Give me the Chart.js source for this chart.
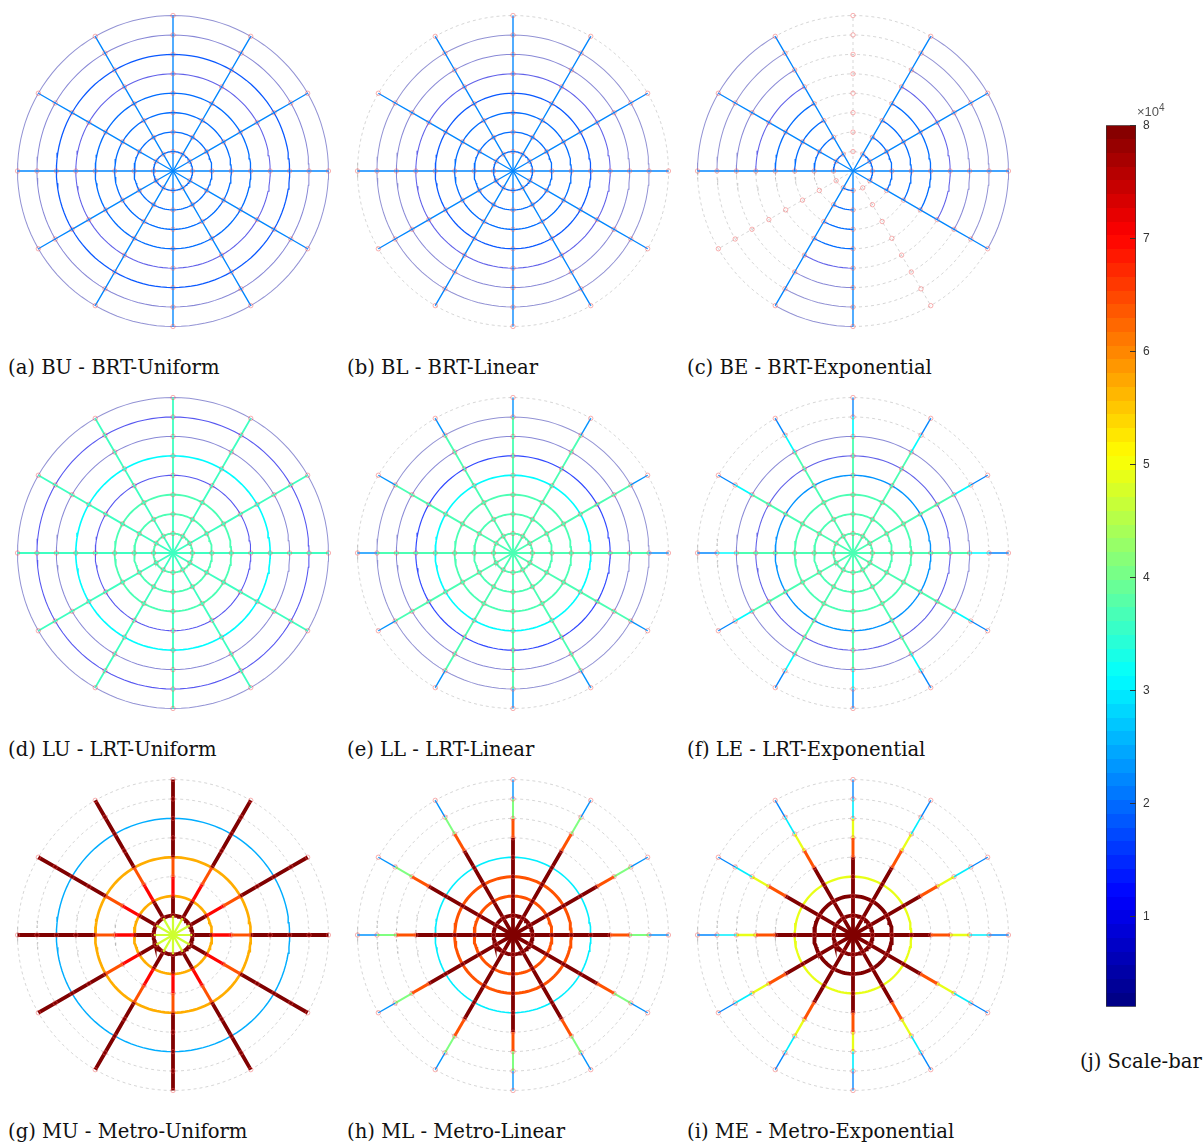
<!DOCTYPE html>
<html lang="en">
<head>
<meta charset="UTF-8">
<title>Network flows - scale bar</title>
<script src="https://cdn.jsdelivr.net/npm/chart.js"></script>
<style>
    body { margin: 0; background: #fff; width: 1204px; height: 1146px; position: relative; overflow: hidden; }
    .painel { position: absolute; }
    .legenda { position: absolute; font-family: "DejaVu Serif", serif; font-size: 19.6px; line-height: 20px; color: #111; white-space: nowrap; }
    #expoente { position: absolute; left: 1137px; top: 102px; font-family: "Liberation Sans", sans-serif; font-size: 13px; color: #555; }
    #expoente sup { font-size: 10px; }
</style>
</head>
<body>
<canvas class="painel" id="pa" width="340" height="340"></canvas>
<canvas class="painel" id="pb" width="340" height="340"></canvas>
<canvas class="painel" id="pc" width="340" height="340"></canvas>
<canvas class="painel" id="pd" width="340" height="340"></canvas>
<canvas class="painel" id="pe" width="340" height="340"></canvas>
<canvas class="painel" id="pf" width="340" height="340"></canvas>
<canvas class="painel" id="pg" width="340" height="340"></canvas>
<canvas class="painel" id="ph" width="340" height="340"></canvas>
<canvas class="painel" id="pi" width="340" height="340"></canvas>
<canvas class="painel" id="escala" width="108" height="910" style="left:1096px; top:111px;"></canvas>
<div id="expoente">&times;10<sup>4</sup></div>

<script>
    // grade da rede: 12 raios a cada 30 graus e 8 aneis
    const spokeAngles = [0, 30, 60, 90, 120, 150, 180, 210, 240, 270, 300, 330];
    const ringLevels = [1, 2, 3, 4, 5, 6, 7, 8];

    // fluxo (x10^4) por anel e por trecho de raio, de dentro pra fora. 0 = sem ligacao
    const ringsBU = [2.0, 2.0, 2.0, 2.0, 0.9, 1.8, 0.5, 0.4];
    const spokesBU = [2.2, 2.2, 2.2, 2.2, 2.2, 2.2, 2.2, 2.2];
    const ringsBL = [2.0, 2.0, 2.0, 1.8, 0.9, 0.5, 0.4, 0];
    const spokesBL = [2.2, 2.2, 2.2, 2.2, 2.2, 2.2, 2.2, 2.2];
    const ringsBE = [2.0, 2.0, 2.0, 2.0, 0.9, 0.5, 0.4, 0.4];
    const spokesBE = [2.2, 2.2, 2.2, 2.2, 2.2, 2.2, 2.2, 2.2];
    const ringsLU = [3.7, 3.7, 3.7, 1.0, 3.1, 0.5, 1.0, 0.4];
    const spokesLU = [3.6, 3.6, 3.6, 3.6, 3.6, 3.6, 3.6, 3.6];
    const ringsLL = [3.7, 3.7, 3.7, 3.1, 1.4, 0.5, 0.4, 0];
    const spokesLL = [3.7, 3.7, 3.7, 3.7, 3.7, 3.7, 3.7, 2.3];
    const ringsLE = [3.7, 3.7, 3.7, 2.3, 0.9, 0.5, 0, 0];
    const spokesLE = [3.7, 3.7, 3.7, 3.7, 3.7, 3.7, 3.1, 2.2];
    const ringsMU = [8.0, 5.7, 0, 5.7, 0, 2.5, 0, 0];
    const spokesMU = [4.7, 8.0, 7.0, 6.4, 8.0, 8.0, 8.0, 8.0];
    const ringsML = [8.0, 6.4, 6.4, 3.0, 0, 0, 0, 0];
    const spokesML = [8.0, 8.0, 8.0, 8.0, 8.0, 6.4, 4.1, 2.3];
    const ringsME = [8.0, 8.0, 4.9, 0, 0, 0, 0, 0];
    const spokesME = [8.0, 8.0, 8.0, 8.0, 6.4, 4.9, 3.0, 2.2];

    // BE: raios sem ligacao e setores (angulo inicial) com aneis ligados
    const spokesOffBE = [90, 210, 300];
    const sectorsOnBE = [0, 30, 120, 150, 240, 330];

    const captions = ['(a) BU - BRT-Uniform', '(b) BL - BRT-Linear', '(c) BE - BRT-Exponential',
                      '(d) LU - LRT-Uniform', '(e) LL - LRT-Linear', '(f) LE - LRT-Exponential',
                      '(g) MU - Metro-Uniform', '(h) ML - Metro-Linear', '(i) ME - Metro-Exponential',
                      '(j) Scale-bar'];

    // escala de cores
    const cbMin = 0.2;
    const cbMax = 8;
    const cbTicks = [1, 2, 3, 4, 5, 6, 7, 8];

    const paineis = [
        { id: 'pa', rings: ringsBU, spokes: spokesBU },
        { id: 'pb', rings: ringsBL, spokes: spokesBL },
        { id: 'pc', rings: ringsBE, spokes: spokesBE, spokesOff: spokesOffBE, sectorsOn: sectorsOnBE },
        { id: 'pd', rings: ringsLU, spokes: spokesLU },
        { id: 'pe', rings: ringsLL, spokes: spokesLL },
        { id: 'pf', rings: ringsLE, spokes: spokesLE },
        { id: 'pg', rings: ringsMU, spokes: spokesMU },
        { id: 'ph', rings: ringsML, spokes: spokesML },
        { id: 'pi', rings: ringsME, spokes: spokesME }
    ];
    const centrosX = [173.3, 512.7, 852.7];
    const centrosY = [171, 552.7, 935];
    const legendaX = [8, 347, 687];
    const legendaY = [358, 740, 1122];

    const cinza = 'rgba(160,160,160,0.55)';
    const passosSetor = 10;

    function jet(t) {
        const c = x => Math.max(0, Math.min(1, x));
        return [c(1.5 - Math.abs(4 * t - 3)), c(1.5 - Math.abs(4 * t - 2)), c(1.5 - Math.abs(4 * t - 1))];
    }
    function estilo(v) {
        if (!v) return null;
        const t = Math.max(0, Math.min(1, (v - cbMin) / (cbMax - cbMin)));
        const [r, g, b] = jet(t).map(x => Math.round(x * 255));
        const a = Math.min(1, 0.35 + 3 * t);
        return { color: `rgba(${r},${g},${b},${a})`, width: 1 + 2.8 * Math.pow(t, 1.5) };
    }
    function segmento(fn) {
        return {
            borderColor: ctx => { const s = estilo(fn(ctx.p0DataIndex)); return s ? s.color : cinza; },
            borderWidth: ctx => { const s = estilo(fn(ctx.p0DataIndex)); return s ? s.width : 0.8; },
            borderDash: ctx => estilo(fn(ctx.p0DataIndex)) ? [] : [3, 3]
        };
    }
    const rad = a => a * Math.PI / 180;

    function montarPainel(p, i) {
        const canvas = document.getElementById(p.id);
        canvas.style.left = (centrosX[i % 3] - 170) + 'px';
        canvas.style.top = (centrosY[Math.floor(i / 3)] - 170) + 'px';

        const datasets = [];
        // nos
        const nos = [];
        spokeAngles.forEach(a => ringLevels.forEach(r => nos.push({ x: r * Math.cos(rad(a)), y: r * Math.sin(rad(a)) })));
        datasets.push({
            data: nos, showLine: false, order: 0,
            pointRadius: 2.2, pointBorderWidth: 0.8,
            pointBorderColor: 'rgba(240,90,90,0.6)', pointBackgroundColor: 'rgba(0,0,0,0)'
        });
        // raios
        spokeAngles.forEach(a => {
            const off = p.spokesOff && p.spokesOff.includes(a);
            const pts = [{ x: 0, y: 0 }].concat(ringLevels.map(r => ({ x: r * Math.cos(rad(a)), y: r * Math.sin(rad(a)) })));
            datasets.push({
                data: pts, showLine: true, order: 1, pointRadius: 0, borderColor: cinza, borderWidth: 1,
                segment: segmento(k => off ? 0 : p.spokes[k])
            });
        });
        // aneis
        ringLevels.forEach((r, j) => {
            const pts = [];
            for (let k = 0; k <= spokeAngles.length * passosSetor; k++) {
                const a = k * 30 / passosSetor;
                pts.push({ x: r * Math.cos(rad(a)), y: r * Math.sin(rad(a)) });
            }
            datasets.push({
                data: pts, showLine: true, order: 2, pointRadius: 0, borderColor: cinza, borderWidth: 1,
                segment: segmento(k => {
                    const setor = spokeAngles[Math.floor(k / passosSetor)];
                    if (p.sectorsOn && !p.sectorsOn.includes(setor)) return 0;
                    return p.rings[j];
                })
            });
        });

        new Chart(canvas, {
            type: 'scatter',
            data: { datasets: datasets },
            options: {
                responsive: false, animation: false, devicePixelRatio: 1,
                layout: { padding: 0 },
                plugins: { legend: { display: false }, tooltip: { enabled: false } },
                scales: {
                    x: { type: 'linear', min: -8.5, max: 8.5, display: false },
                    y: { type: 'linear', min: -8.5, max: 8.5, display: false }
                }
            }
        });

        const leg = document.createElement('div');
        leg.className = 'legenda';
        leg.textContent = captions[i];
        leg.style.left = legendaX[i % 3] + 'px';
        leg.style.top = legendaY[Math.floor(i / 3)] + 'px';
        document.body.appendChild(leg);
    }
    paineis.forEach(montarPainel);

    // barra de escala
    function gradiente(chart) {
        const area = chart.chartArea;
        if (!area) return 'rgba(0,0,0,0)';
        const g = chart.ctx.createLinearGradient(0, area.bottom, 0, area.top);
        const n = 64;
        for (let i = 0; i < n; i++) {
            const [r, gg, b] = jet((i + 0.5) / n).map(x => Math.round(x * 255));
            const c = `rgb(${r},${gg},${b})`;
            g.addColorStop(i / n, c);
            g.addColorStop((i + 1) / n, c);
        }
        return g;
    }
    const marcasInternas = {
        id: 'marcasInternas',
        afterDatasetsDraw(chart) {
            const { ctx, chartArea } = chart;
            const y = chart.scales.y;
            ctx.save();
            ctx.strokeStyle = '#333';
            ctx.lineWidth = 1;
            cbTicks.forEach(v => {
                const py = Math.round(y.getPixelForValue(v)) + 0.5;
                ctx.beginPath();
                ctx.moveTo(chartArea.right - 6, py);
                ctx.lineTo(chartArea.right, py);
                ctx.stroke();
            });
            ctx.restore();
        }
    };
    new Chart(document.getElementById('escala'), {
        type: 'bar',
        data: {
            labels: [''],
            datasets: [{
                data: [[cbMin, cbMax]],
                backgroundColor: ctx => gradiente(ctx.chart),
                borderColor: '#333', borderWidth: 1, borderSkipped: false,
                barPercentage: 1, categoryPercentage: 1
            }]
        },
        options: {
            responsive: false, animation: false, devicePixelRatio: 1,
            layout: { padding: { left: 10, top: 0, bottom: 0, right: 0 } },
            plugins: { legend: { display: false }, tooltip: { enabled: false } },
            scales: {
                x: { display: false },
                y: {
                    position: 'right', min: cbMin, max: cbMax,
                    afterBuildTicks: s => { s.ticks = cbTicks.map(v => ({ value: v })); },
                    afterFit: s => { s.width = 68; },
                    grid: { drawOnChartArea: false, drawTicks: false },
                    border: { display: false },
                    ticks: { padding: 7, color: '#333', font: { family: 'Liberation Sans', size: 12 } }
                }
            }
        },
        plugins: [marcasInternas]
    });

    const legJ = document.createElement('div');
    legJ.className = 'legenda';
    legJ.textContent = captions[9];
    legJ.style.left = '1080px';
    legJ.style.top = '1052px';
    document.body.appendChild(legJ);
</script>
</body>
</html>
